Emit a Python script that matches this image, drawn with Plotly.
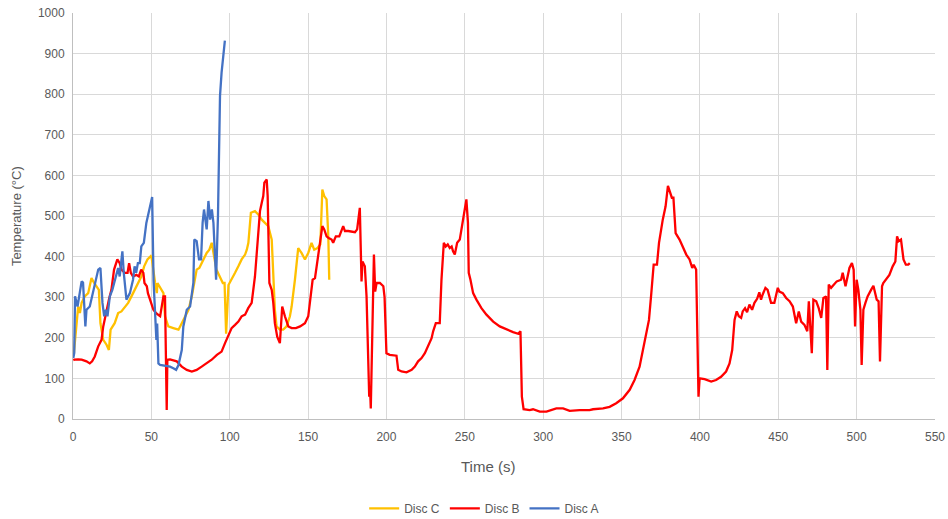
import plotly.graph_objects as go

# ---- Data ----
disc_a_time = [0.2, 0.8, 1.3, 2.9, 5.5, 6.4, 7.9, 8.6, 10.7, 13.9, 16.1, 17.5, 18.8, 19.9, 21.0, 22.0,
               23.5, 25.1, 26.6, 28.8, 29.8, 31.5, 32.4, 34.1, 36.3, 38.3, 39.3, 40.3, 41.4, 42.6, 43.6,
               45.2, 46.8, 49.0, 50.5, 51.4, 52.3, 53.2, 53.7, 54.5, 55.6, 61.9, 64.0, 65.8, 67.3, 69.4,
               70.4, 72.6, 74.7, 75.8, 76.8, 77.4, 78.9, 80.4, 81.7, 82.7, 83.6, 85.3, 86.4, 87.5, 88.6,
               89.6, 91.3, 92.5, 93.8, 94.8, 96.9]
disc_a_temp = [150, 163, 302, 277, 339, 336, 228, 269, 277, 327, 368, 372, 286, 253, 269, 253,
               302, 318, 343, 372, 351, 413, 360, 294, 310, 343, 376, 360, 384, 384, 425,
               434, 483, 524, 547, 340, 265, 195, 235, 137, 133, 129, 125, 121, 133, 170,
               228, 269, 277, 302, 335, 442, 438, 393, 393, 483, 516, 467, 537, 491, 516,
               483, 343, 500, 796, 853, 932]

disc_c_time = [0.5, 2.3, 3.3, 4.4, 5.5, 7.5, 9.7, 11.8, 13.5, 16.5, 17.5, 19.3, 21.4, 22.9, 24.0,
               26.6, 28.8, 30.9, 33.1, 35.2, 37.3, 39.5, 41.5, 43.6, 45.4, 47.5, 49.6, 50.2, 52.4,
               53.5, 53.9, 56.7, 57.7, 58.7, 60.8, 64.0, 67.3, 69.4, 71.5, 73.7, 75.8, 77.8, 78.9,
               80.6, 82.1, 83.6, 85.3, 87.0, 88.5, 91.5, 93.8, 95.6, 96.7, 97.7, 99.2, 101.2, 103.4,
               105.5, 107.6, 109.8, 110.9, 111.9, 113.5, 116.1, 118.2, 120.4, 122.5, 124.6, 126.8,
               128.8, 129.9, 132.0, 134.1, 136.3, 138.4, 139.5, 141.6, 143.7, 145.8, 148.0, 150.1,
               152.2, 153.9, 156.0, 157.8, 159.1, 160.3, 161.8, 162.9, 163.5]
disc_c_temp = [160, 244, 277, 261, 286, 302, 310, 347, 335, 318, 236, 195, 183, 170, 220,
               236, 261, 265, 277, 286, 302, 318, 335, 351, 376, 393, 401, 397, 335,
               310, 335, 318, 310, 253, 228, 224, 220, 236, 253, 269, 302, 339, 368,
               372, 384, 393, 409, 417, 434, 368, 351, 335, 335, 210, 330, 343, 360,
               376, 393, 405, 417, 434, 508, 512, 504, 491, 483, 475, 442,
               269, 228, 220, 220, 228, 253, 277, 343, 421, 409, 393, 409,
               434, 417, 421, 430, 565, 549, 541, 450, 343]

disc_b_time = [0.2, 0.8, 3.3, 5.5, 8.6, 10.7, 12.2, 13.9, 16.1, 18.2, 19.3, 21.4, 22.9, 24.5, 26.2,
               28.3, 29.8, 30.9, 33.1, 34.8, 35.8, 36.9, 38.3, 40.4, 42.0, 43.5, 44.9, 45.6, 47.1,
               47.8, 49.6, 51.3, 53.2, 55.6, 57.7, 58.7, 59.8, 60.2, 61.9, 66.2, 69.4, 72.6, 75.8,
               78.9, 82.1, 85.3, 88.5, 91.8, 94.8, 97.0, 99.1, 101.2, 103.4, 105.5, 107.6, 109.8,
               111.8, 114.0, 116.1, 117.2, 118.2, 119.3, 120.4, 121.4, 122.1, 123.6, 124.2, 124.6,
               125.3, 126.8, 127.8, 128.8, 130.3, 132.0, 133.5, 135.2, 137.4, 139.5, 142.2, 144.9,
               148.0, 150.1, 151.8, 152.9, 154.4, 156.1, 157.6, 159.1, 160.3, 161.8, 163.1, 165.0,
               166.0, 167.7, 169.9, 172.4, 173.5, 175.6, 179.9, 181.3, 183.0, 183.7, 184.1, 184.7,
               186.2, 187.3, 188.4, 189.0, 189.5, 190.0, 192.0, 192.8, 193.7, 195.8, 198.0, 198.8,
               200.0, 202.1, 206.4, 207.5, 209.6, 212.8, 216.1, 218.1, 220.2, 222.4, 224.5, 226.6,
               228.8, 229.8, 231.5, 234.0, 235.1, 236.6, 237.8, 239.1, 240.4, 241.6, 242.5, 243.6,
               245.1, 246.8, 247.9, 248.9, 249.9, 251.0, 252.0, 252.5, 253.6, 255.3, 257.4, 260.6,
               263.8, 268.1, 272.3, 276.6, 280.8, 284.0, 285.5, 286.4, 287.5, 291.4, 293.5, 297.8,
               302.1, 308.4, 312.7, 316.9, 323.2, 329.6, 331.8, 338.2, 342.4, 346.6, 350.9, 355.2,
               358.3, 361.5, 363.6, 365.8, 367.5, 369.0, 370.5, 372.6, 373.9, 376.3, 378.1, 379.6,
               381.1, 382.1, 383.1, 384.5, 387.0, 389.2, 391.3, 393.4, 395.1, 396.0, 397.6, 399.1,
               399.8, 403.0, 407.2, 410.3, 413.5, 416.7, 418.9, 420.6, 422.1, 423.5, 424.8, 426.3,
               427.3, 428.8, 430.1, 431.6, 433.3, 434.8, 436.5, 437.9, 439.0, 440.0, 441.8, 443.2,
               445.4, 447.5, 449.7, 450.7, 452.9, 455.0, 457.2, 459.3, 461.4, 463.1, 464.6, 466.7,
               468.5, 469.5, 470.3, 471.4, 472.4, 474.2, 475.8, 477.4, 478.8, 480.5, 481.3, 482.2,
               483.7, 485.8, 487.3, 490.1, 491.1, 492.9, 495.4, 497.0, 498.1, 499.0, 500.0, 501.1,
               502.4, 503.2, 504.3, 505.6, 507.0, 509.2, 510.7, 512.8, 514.0, 514.9, 516.2, 517.0,
               518.7, 520.9, 523.0, 524.7, 525.8, 526.8, 528.3, 529.9, 531.4, 532.9, 533.9]
disc_b_temp = [145, 146, 147, 146, 142, 137, 142, 154, 179, 195, 228, 269, 294, 318, 368,
               393, 384, 368, 360, 360, 384, 360, 351, 355, 351, 368, 360, 335, 327,
               310, 286, 269, 260, 253, 302, 302, 22, 146, 147, 142, 129, 121, 117,
               121, 129, 137, 146, 158, 166, 187, 208, 224, 232, 240, 253, 257,
               273, 286, 351, 409, 467, 512, 532, 549, 582, 590, 549, 450,
               335, 318, 286, 236, 203, 187, 277, 253, 228, 224, 224, 228,
               236, 253, 302, 343, 347, 393, 434, 475, 467, 450, 446, 442,
               434, 450, 450, 475, 463, 463, 460, 467, 520, 393, 339, 388,
               376, 302, 154, 55, 80, 26, 405, 314, 335, 335, 327, 300,
               162, 158, 156, 121, 117, 115, 121, 129, 142, 150, 162, 179,
               199, 216, 236, 236, 343, 434, 425, 430, 421, 425, 413, 405,
               434, 442, 467, 500, 516, 541, 483, 360, 343, 310, 294, 273,
               257, 240, 228, 220, 214, 210, 216, 55, 24, 22, 24, 18,
               18, 26, 26, 20, 22, 22, 24, 26, 30, 39, 51, 72,
               96, 129, 170, 220, 244, 310, 380, 380, 434, 491, 524, 574,
               557, 545, 545, 458, 442, 425, 405, 393, 372, 380, 368, 55,
               100, 98, 92, 96, 104, 117, 137, 170, 244, 265, 253, 249,
               265, 273, 263, 282, 269, 286, 296, 312, 294, 306, 323, 318,
               286, 286, 323, 314, 310, 298, 290, 277, 236, 265, 240, 232,
               216, 290, 228, 162, 294, 290, 273, 249, 298, 302, 121, 331,
               323, 331, 339, 343, 360, 327, 372, 384, 368, 228, 343, 318,
               269, 133, 269, 286, 302, 318, 328, 294, 290, 142, 327, 335,
               343, 355, 376, 388, 450, 438, 442, 393, 380, 380, 384]

series_names = ["Disc C", "Disc B", "Disc A"]
series_colors = ["#FFC000", "#FF0000", "#4472C4"]

x_title = "Time (s)"
y_title = "Temperature (°C)"

FONT = "Liberation Sans, Arial, sans-serif"

fig = go.Figure()
for name, color, xs, ys in zip(series_names, series_colors,
                               [disc_c_time, disc_b_time, disc_a_time],
                               [disc_c_temp, disc_b_temp, disc_a_temp]):
    fig.add_trace(go.Scatter(x=xs, y=ys, mode="lines", name=name,
                             line=dict(color=color, width=2.3)))

fig.update_layout(
    width=948, height=519,
    margin=dict(l=73, r=13, t=13, b=100, autoexpand=False),
    paper_bgcolor="white", plot_bgcolor="white",
    font=dict(family=FONT, size=12, color="#595959"),
    showlegend=True,
    legend=dict(orientation="h", x=0.477, xanchor="center", y=-0.22, yanchor="middle",
                font=dict(size=12, color="#595959"), itemwidth=30, tracegroupgap=0),
    xaxis=dict(range=[0, 550], dtick=50, tick0=0, showgrid=True, gridcolor="#d9d9d9",
               gridwidth=1, zeroline=False, showline=True, linecolor="#bfbfbf",
               ticks="", tickfont=dict(size=12, color="#595959"), automargin=False,
               ticklabelstandoff=7),
    yaxis=dict(range=[0, 1000], dtick=100, tick0=0, showgrid=True, gridcolor="#d9d9d9",
               gridwidth=1, zeroline=False, showline=True, linecolor="#bfbfbf",
               ticks="", tickfont=dict(size=12, color="#595959"), automargin=False,
               ticklabelstandoff=5),
    annotations=[
        dict(text=x_title, x=0.482, y=-0.117, xref="paper", yref="paper",
             xanchor="center", yanchor="middle", showarrow=False,
             font=dict(size=15, color="#595959")),
        dict(text=y_title, x=-0.066, y=0.5, xref="paper", yref="paper",
             xanchor="center", yanchor="middle", showarrow=False, textangle=-90,
             font=dict(size=13, color="#595959")),
    ],
)

fig.write_html(
    "out.html",
    config={"displayModeBar": False},
    post_script="document.body.style.margin='0px';document.body.style.overflow='hidden';",
)
